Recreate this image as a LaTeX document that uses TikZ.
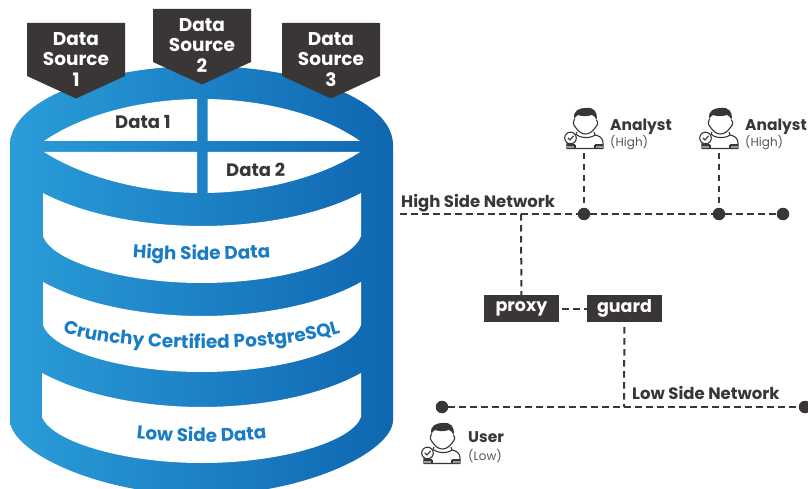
\documentclass[tikz,border=0pt]{standalone}
\usepackage{fontspec}
\setmainfont{Poppins}
\usetikzlibrary{decorations.text,calc}
\definecolor{ink}{HTML}{3A3635}
\definecolor{gl}{HTML}{2A9DD9}
\definecolor{gr}{HTML}{0F66B1}
\definecolor{txtblue}{HTML}{1A7DC4}
\definecolor{softgrey}{HTML}{5A5655}
\tikzset{
  x=1pt,y=-1pt,
  net/.style={draw=ink,line width=2pt,dash pattern=on 6.5pt off 4.5pt},
  dot/.style={circle,fill=ink,inner sep=0pt,minimum size=12.5pt},
  tag/.style={fill=ink,text=white,font=\fontsize{17.5}{20}\selectfont\bfseries,minimum width=75pt,minimum height=27pt,inner sep=0pt},
  srctext/.style={text=white,font=\fontsize{18.5}{20.5}\selectfont\bfseries,align=center,inner sep=0pt},
  lab/.style={text=ink,font=\fontsize{16.5}{18}\selectfont\bfseries,anchor=base west,inner sep=0pt},
  bigdata/.style={text=ink,font=\fontsize{18}{20}\selectfont\bfseries,anchor=base west,inner sep=0pt},
  who/.style={text=ink,font=\fontsize{15.5}{18}\selectfont\bfseries,anchor=base west,inner sep=0pt},
  lvl/.style={text=softgrey,font=\fontsize{12}{14}\selectfont,anchor=base west,inner sep=0pt},
  person/.pic={
    \fill[ink] (-10.5,-13) .. controls (-13,-21) and (-5,-24.5) .. (1,-24) .. controls (9,-25) and (13,-20) .. (11.5,-12)
      .. controls (10.5,-15) and (9,-16) .. (7,-17) .. controls (2,-15.5) and (-3,-15.5) .. (-7,-17) .. controls (-8.5,-16) and (-10,-15) .. (-10.5,-13) -- cycle;
    \draw[ink,line width=1.1pt,line join=round] (-10.5,-13) .. controls (-13,-8) and (-11,-7) .. (-9,-4) .. controls (-6,0) and (-3,2) .. (0.5,2) .. controls (4,2) and (7,0) .. (10,-4) .. controls (12,-7) and (14,-8) .. (11.5,-12);
    \draw[ink,line width=1.1pt,line join=round] (-8,0) -- (-9,2) (9,0) -- (10,3) .. controls (14,4) and (18,5) .. (18,12) -- (18,16.5) -- (-18,16.5) -- (-18,11);
    \draw[ink,line width=1.1pt,line join=round] (-9,2) .. controls (-6,6) and (5,7) .. (10,3);
    \fill[softgrey!60] (-18,13) rectangle (-10,16) (10,13) rectangle (18,16);
    \draw[ink,line width=1.1pt] (-10,16.5) -- (-10,13) (10,16.5) -- (10,13) (-18,13) -- (-10,13) (10,13) -- (18,13);
    \draw[ink,line width=1.1pt,fill=white] (-14.5,6) circle (5.8pt);
    \draw[ink,line width=1.1pt,line cap=round,line join=round] (-17,6) -- (-15,8) -- (-11.5,4);
  }
}
\begin{document}
\begin{tikzpicture}
\useasboundingbox (0,0) rectangle (808,489);
\fill[white] (0,0) rectangle (808,489);
\begin{scope}
\clip (0,0) rectangle (808,489);
% cylinder body
\path[left color=gl,right color=gr,middle color=gl!50!gr]
  (10,145) .. controls (10,100) and (100,66) .. (201.5,66)
  .. controls (303,66) and (393,100) .. (393,145)
  -- (393,420) .. controls (393,452) and (303,495) .. (201.5,495)
  .. controls (100,495) and (10,452) .. (10,420) -- cycle;
% top opening, four quarters
\begin{scope}
\clip (44,141) .. controls (85,113) and (145,99) .. (202,99) .. controls (259,99) and (320,113) .. (360,141)
  -- (360,152) .. controls (320,178) and (259,193) .. (202,193) .. controls (145,193) and (85,178) .. (44,152) -- cycle;
\fill[white] (40,90) rectangle (197,141) (207.5,90) rectangle (365,141)
             (40,152) rectangle (197,200) (207.5,152) rectangle (365,200);
\end{scope}
% bands
\fill[white] (43,193) .. controls (85,215) and (145,226) .. (202,226) .. controls (259,226) and (320,215) .. (361,193)
  -- (361,236) .. controls (352,262) and (280,283) .. (202,283) .. controls (124,283) and (52,262) .. (43,236) -- cycle;
\fill[white] (43,282) .. controls (85,305) and (145,316) .. (202,316) .. controls (259,316) and (320,305) .. (361,282)
  -- (361,325) .. controls (352,351) and (280,372) .. (202,372) .. controls (124,372) and (52,351) .. (43,325) -- cycle;
\fill[white] (42,373) .. controls (85,396) and (145,407) .. (202,407) .. controls (259,407) and (320,396) .. (361,373)
  -- (361,417) .. controls (352,442) and (280,463) .. (202,463) .. controls (124,463) and (52,442) .. (42,417) -- cycle;
\end{scope}
% source pentagons
\fill[ink] (27,23) -- (125,23) -- (125,76) -- (76,98.5) -- (27,76) -- cycle;
\fill[ink] (153,9) -- (251,9) -- (251,62) -- (202,84.5) -- (153,62) -- cycle;
\fill[ink] (282,23) -- (380,23) -- (380,76) -- (331,98.5) -- (282,76) -- cycle;
\node[srctext] (s1) at (76,59.5) {Data\\Source\\1};
\node[srctext] (s2) at (202,45.5) {Data\\Source\\2};
\node[srctext] (s3) at (331,59.5) {Data\\Source\\3};
\node[bigdata] (d1) at (115,129) {Data 1};
\node[bigdata] (d2) at (226,177) {Data 2};
% curved labels
\path[postaction={decorate,decoration={text along path,text align=center,text={|\fontsize{18.4}{20}\selectfont\bfseries\color{txtblue}|High Side Data}}}]
  (100,254) .. controls (160,262) and (243,262) .. (303,254);
\path[postaction={decorate,decoration={text along path,text align=center,text={|\fontsize{18.5}{20}\selectfont\bfseries\color{txtblue}|Crunchy Certified PostgreSQL}}}]
  (45,326) .. controls (110,356) and (293,356) .. (358,326);
\path[postaction={decorate,decoration={text along path,text align=center,text={|\fontsize{18.4}{20}\selectfont\bfseries\color{txtblue}|Low Side Data}}}]
  (100,433) .. controls (160,445) and (243,445) .. (303,433);
% network nodes
\node[dot] (h1) at (584,214) {};
\node[dot] (h2) at (719,214) {};
\node[dot] (h3) at (783,214) {};
\coordinate (hs) at (400,214);
\coordinate (hp) at (521,214);
\node[tag] (proxy) at (521.5,308.5) {\raisebox{-1.5pt}{proxy}};
\node[tag] (guard) at (624.5,308.5) {\raisebox{-1pt}{guard}};
\node[dot] (l1) at (442,407) {};
\node[dot] (l2) at (805,407) {};
\coordinate (lg) at (624,407);
\coordinate (a1) at (584,153);
\coordinate (a2) at (719,153);
\draw[net] (hs) -- (h1);
\draw[net] (h1) -- (h2);
\draw[net] (h2) -- (h3);
\draw[net] (a1) -- (h1);
\draw[net] (a2) -- (h2);
\draw[net] (hp) -- (proxy);
\draw[net,shorten <=3pt] (proxy) -- (guard);
\draw[net,shorten <=5pt] (guard) -- (lg);
\draw[net] (l1) -- (l2);
\node[lab] (hn) at (401,207.5) {High Side Network};
\node[lab] (ln) at (632,399.5) {Low Side Network};
% people
\pic at (585,132) {person};
\pic at (720,132) {person};
\pic at (442,447) {person};
\node[who] (an1) at (610,131) {Analyst};
\node[lvl] (al1) at (610,147) {(High)};
\node[who] (an2) at (745,131) {Analyst};
\node[lvl] (al2) at (745,147) {(High)};
\node[who] (us) at (468,442.5) {User};
\node[lvl] (ul) at (468,460) {(Low)};
\end{tikzpicture}
\end{document}
